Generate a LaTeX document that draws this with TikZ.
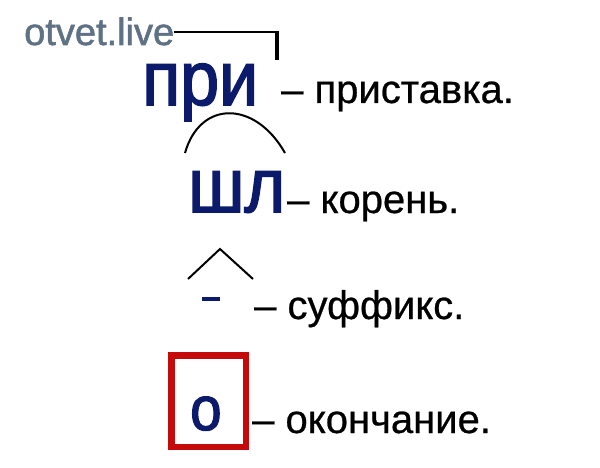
\documentclass[tikz,border=0pt]{standalone}
\usepackage{fontspec}
\setmainfont[FakeBold=0.6]{Liberation Sans}
\newfontfamily\morphfont[FakeStretch=0.91,FakeBold=2]{Liberation Sans}
\newfontfamily\markfont[FakeBold=1.5]{Liberation Sans}
\definecolor{navy}{HTML}{0B1A6B}
\definecolor{boxred}{HTML}{C40A0A}
\definecolor{markgray}{HTML}{5F7184}
\begin{document}
\begin{tikzpicture}[x=1pt,y=-1pt,
    morph/.style={anchor=base west,inner sep=0pt,text=navy,font=\morphfont\fontsize{77}{77}\selectfont},
    expl/.style={anchor=base west,inner sep=0pt,font=\fontsize{40}{40}\selectfont}]
    \useasboundingbox (0,0) rectangle (600,468);
    \node[anchor=base west,inner sep=0pt,text=markgray,font=\markfont\fontsize{38}{38}\selectfont] (mark) at (24,45) {otvet.live};
    \node[morph] (pri) at (142,105) {при};
    \node[expl] (pri-t) at (281,103) {– приставка.};
    \node[morph] (shl) at (188,212) {шл};
    \node[expl] (shl-t) at (287,213) {– корень.};
    \node[expl] (suf-t) at (254,319) {– суффикс.};
    \node[morph,font=\morphfont\fontsize{62}{62}\selectfont] (o) at (190,430) {о};
    \node[expl] (o-t) at (252,433) {– окончание.};
    \draw[line width=2pt] (mark.east|-0,32) -- (277,32);
    \draw[line width=3.5pt] (277,31) -- (277,60);
    \draw[line width=2pt] (185,153) .. controls (200,100) and (255,100) .. (285,153);
    \draw[line width=2pt] (188,279) -- (220,249) -- (253,279);
    \draw[line width=4pt,navy] (202,299) -- (220,299);
    \draw[line width=6.5pt,boxred] (171.25,355.25) rectangle (245.75,446.75);
\end{tikzpicture}
\end{document}
